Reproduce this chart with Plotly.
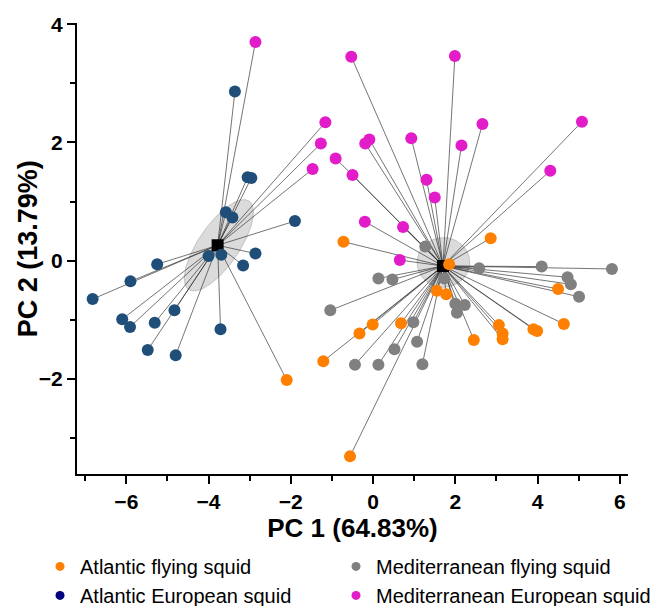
import numpy as np
import plotly.graph_objects as go

# ---------------- data ----------------
# Atlantic flying squid (orange)
afs_x = [-0.72, 2.86, 1.85, 1.55, 1.78, 4.50, 4.64, 3.06, 3.15, 3.15, 3.90, 3.99, 2.45, -0.01, 0.68, -0.33, -1.21, -0.56, -2.10]
afs_y = [0.32, 0.38, -0.06, -0.51, -0.57, -0.48, -1.07, -1.09, -1.23, -1.33, -1.16, -1.19, -1.34, -1.08, -1.06, -1.23, -1.70, -3.31, -2.02]
afs_c = ["R"] * 18 + ["L"]

# Mediterranean flying squid (grey)
mfs_x = [1.27, 2.58, 4.10, 5.81, 4.73, 4.81, 5.01, 0.13, 0.47, 1.73, -1.04, 2.00, 2.23, 2.04, 0.98, 1.07, 0.52, -0.44, 0.13, 1.20]
mfs_y = [0.24, -0.13, -0.10, -0.14, -0.28, -0.40, -0.61, -0.30, -0.32, -0.30, -0.84, -0.73, -0.75, -0.88, -1.04, -1.37, -1.50, -1.76, -1.76, -1.75]
mfs_c = ["R"] * 20

# Atlantic European squid (blue)
aes_x = [-3.36, -3.05, -2.96, -3.58, -3.42, -1.90, -2.86, -3.16, -4.00, -3.69, -5.25, -5.90, -6.82, -6.10, -5.91, -5.31, -4.83, -3.71, -5.48, -4.80]
aes_y = [2.86, 1.41, 1.40, 0.82, 0.73, 0.67, 0.12, -0.08, 0.08, 0.10, -0.06, -0.35, -0.65, -0.99, -1.12, -1.05, -0.84, -1.16, -1.51, -1.60]
aes_c = ["L"] * 20

# Mediterranean European squid (magenta)
mes_x = [-2.86, -1.16, -1.27, -1.47, -0.53, 1.99, 2.66, 5.08, 4.31, 2.15, 0.93, -0.09, -0.19, -0.91, -0.50, 1.30, 1.50, -0.20, 0.73, 0.65]
mes_y = [3.70, 2.34, 1.98, 1.55, 3.45, 3.46, 2.31, 2.35, 1.52, 1.95, 2.07, 2.05, 1.98, 1.73, 1.45, 1.37, 1.07, 0.66, 0.57, 0.01]
mes_c = ["L"] * 4 + ["R"] * 16

# cluster centroids
centroid_names = ["L", "R"]
centroid_x = [-3.78, 1.70]
centroid_y = [0.26, -0.09]

# confidence ellipses: centre, first semi-axis vector, second semi-axis vector
ell_cx = [-3.75, 1.71]
ell_cy = [0.26, -0.03]
ell_u = [(0.734, 0.748), (0.64, 0.0)]
ell_v = [(-0.41, 0.193), (0.0, 0.42)]

# (name, x, y, cluster, point colour, legend colour, legend column)
groups = [
    ("Mediterranean flying squid", mfs_x, mfs_y, mfs_c, "#808080", "#808080", "legend2"),
    ("Atlantic flying squid", afs_x, afs_y, afs_c, "#FF7F00", "#FF7F00", "legend"),
    ("Atlantic European squid", aes_x, aes_y, aes_c, "#1F4E79", "#000080", "legend"),
    ("Mediterranean European squid", mes_x, mes_y, mes_c, "#E21CC8", "#E21CC8", "legend2"),
]
legend_order = ["Atlantic flying squid", "Atlantic European squid",
                "Mediterranean flying squid", "Mediterranean European squid"]

FONT = "Liberation Sans, Arial, sans-serif"

fig = go.Figure()

# ellipses
t = np.linspace(0, 2 * np.pi, 200)
for cx, cy, u, v in zip(ell_cx, ell_cy, ell_u, ell_v):
    ex = cx + u[0] * np.cos(t) + v[0] * np.sin(t)
    ey = cy + u[1] * np.cos(t) + v[1] * np.sin(t)
    fig.add_trace(go.Scatter(x=ex, y=ey, mode="lines", fill="toself",
                             fillcolor="rgba(200,200,200,0.65)",
                             line=dict(color="rgba(170,170,170,0.8)", width=0.8),
                             showlegend=False, hoverinfo="skip"))

# spider lines
cmap = {n: (cxv, cyv) for n, cxv, cyv in zip(centroid_names, centroid_x, centroid_y)}
lx, ly = [], []
for g in groups:
    _, gx, gy, gc = g[:4]
    for xv, yv, cl in zip(gx, gy, gc):
        cx, cy = cmap[cl]
        lx += [cx, xv, None]
        ly += [cy, yv, None]
fig.add_trace(go.Scatter(x=lx, y=ly, mode="lines",
                         line=dict(color="rgba(50,50,50,0.85)", width=0.8),
                         showlegend=False, hoverinfo="skip"))

# centroids
fig.add_trace(go.Scatter(x=centroid_x, y=centroid_y, mode="markers",
                         marker=dict(symbol="square", size=12, color="black"),
                         showlegend=False))

# points
for name, gx, gy, gc, col, lcol, leg in groups:
    fig.add_trace(go.Scatter(x=gx, y=gy, mode="markers", name=name,
                             marker=dict(size=12, color=col, line=dict(width=0)),
                             showlegend=False))

# legend entries (two columns = two legends)
for lname in legend_order:
    for name, gx, gy, gc, col, lcol, leg in groups:
        if name == lname:
            fig.add_trace(go.Scatter(x=[None], y=[None], mode="markers", name=name,
                                     marker=dict(size=9, color=lcol),
                                     showlegend=True, legend=leg))

axis_common = dict(
    showline=True, linecolor="black", linewidth=2,
    ticks="outside", ticklen=8, tickwidth=2, tickcolor="black",
    showgrid=False, zeroline=False,
    tickfont=dict(family=FONT, size=21, color="black", weight="bold"),
)

fig.update_xaxes(
    range=[-7.2, 6.2], tick0=0, dtick=2,
    minor=dict(dtick=1, ticks="outside", ticklen=5, tickwidth=2, tickcolor="black"),
    title=dict(text="PC 1 (64.83%)", font=dict(family=FONT, size=26, color="black", weight="bold"), standoff=4),
    **axis_common,
)
fig.update_yaxes(
    range=[-3.6, 4.02], tick0=0, dtick=2,
    minor=dict(dtick=1, ticks="outside", ticklen=5, tickwidth=2, tickcolor="black"),
    **axis_common,
)

# y-axis title placed as rotated text left of the tick labels
fig.add_annotation(text="PC 2 (13.79%)", xref="paper", yref="paper",
                   x=-0.089, y=0.5, xanchor="center", yanchor="middle",
                   textangle=-90, showarrow=False,
                   font=dict(family=FONT, size=27, color="black", weight="bold"))

legend_common = dict(orientation="h", xref="container", yref="container",
                     xanchor="left", yanchor="top",
                     entrywidth=300, entrywidthmode="pixels",
                     font=dict(family=FONT, size=20, color="black"),
                     traceorder="normal", itemsizing="trace",
                     bgcolor="rgba(0,0,0,0)")

fig.update_layout(
    width=668, height=606,
    margin=dict(l=77, r=40, t=23, b=131),
    paper_bgcolor="white", plot_bgcolor="white",
    font=dict(family=FONT, color="black"),
    legend=dict(x=0.0599, y=0.0975, **legend_common),
    legend2=dict(x=0.503, y=0.0975, **legend_common),
)

fig.write_html("out.html")
